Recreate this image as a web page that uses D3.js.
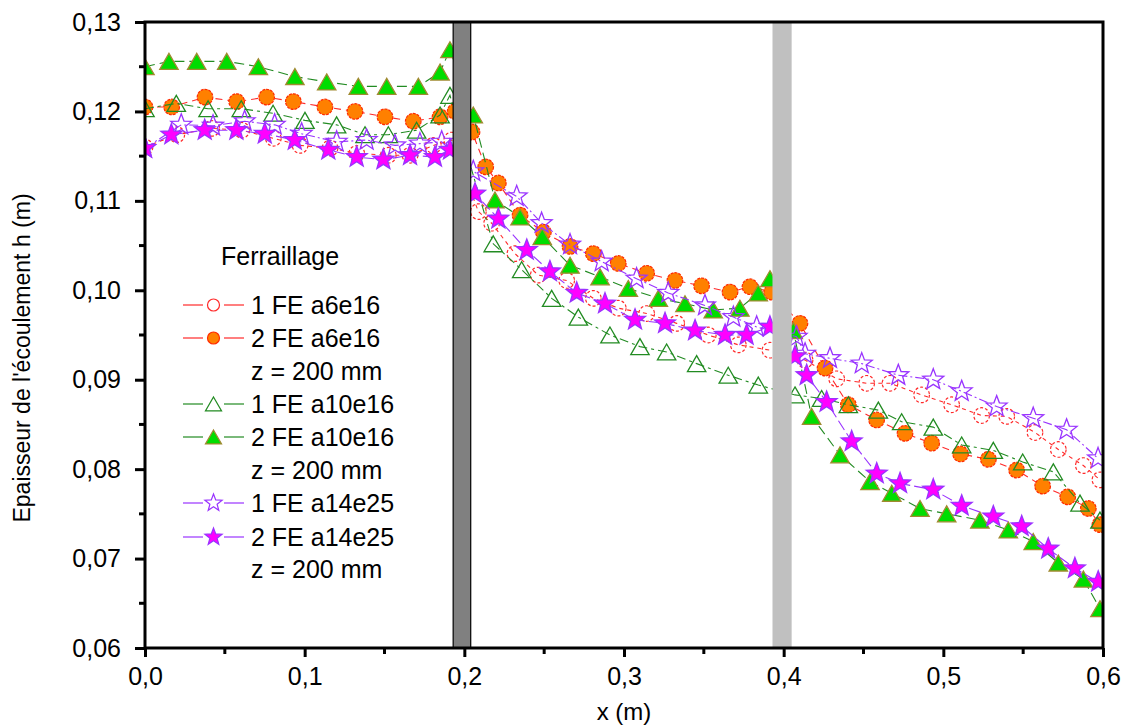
<!DOCTYPE html>
<html><head><meta charset="utf-8">
<script src="https://cdn.jsdelivr.net/npm/d3@7"></script>
<style>
html,body{margin:0;padding:0;background:#fff;}
svg{display:block;font-family:"Liberation Sans",Arial,sans-serif;}
</style></head>
<body><svg id="chart" width="1128" height="727"></svg>
<script>
// ---------- data ----------
const xTickValues = [0, 0.1, 0.2, 0.3, 0.4, 0.5, 0.6];
const xTickLabels = ["0,0","0,1","0,2","0,3","0,4","0,5","0,6"];
const yTickValues = [0.06,0.07,0.08,0.09,0.10,0.11,0.12,0.13];
const yTickLabels = ["0,06","0,07","0,08","0,09","0,10","0,11","0,12","0,13"];
const xTitle = "x (m)";
const yTitle = "Epaisseur de l'écoulement h (m)";
const legendTitle = "Ferraillage";
const zNote = "z = 200 mm";
const barDark = [0.193, 0.204];
const barLight = [0.393, 0.405];

// 1 FE a6e16
const s1x = [0,0.0199,0.0418,0.0606,0.0804,0.0971,0.1159,0.1326,0.1524,0.1660,0.1806,0.1921,
  0.2088,0.2171,0.2317,0.2463,0.2641,0.2808,0.2964,0.3142,0.3330,0.3528,0.3716,0.3914,
  0.4134,0.4332,0.4520,0.4666,0.4864,0.5052,0.5240,0.5397,0.5574,0.5720,0.5877,0.5981];
const s1y = [0.1160,0.1174,0.1181,0.1179,0.1170,0.1162,0.1159,0.1153,0.1151,0.1151,0.1162,0.1168,
  0.1088,0.1075,0.1041,0.1017,0.1011,0.0991,0.0980,0.0974,0.0963,0.0950,0.0939,0.0933,
  0.0922,0.0901,0.0896,0.0896,0.0883,0.0872,0.0860,0.0859,0.0841,0.0822,0.0804,0.0788];
// 2 FE a6e16
const s2x = [0,0.0167,0.0376,0.0574,0.0762,0.0929,0.1127,0.1315,0.1503,0.1680,0.1848,0.1942,
  0.2048,0.2134,0.2213,0.2349,0.2495,0.2662,0.2808,0.2964,0.3142,0.3319,0.3486,0.3664,0.3789,0.3925,
  0.4102,0.4259,0.4405,0.4582,0.4760,0.4927,0.5108,0.5282,0.5459,0.5622,0.5779,0.5908,0.5981];
const s2y = [0.1205,0.1205,0.1216,0.1211,0.1216,0.1211,0.1205,0.1200,0.1194,0.1189,0.1194,0.1200,
  0.1177,0.1138,0.1120,0.1084,0.1065,0.1049,0.1041,0.1030,0.1019,0.1011,0.1005,0.0998,0.1004,0.0998,
  0.0963,0.0913,0.0872,0.0855,0.0840,0.0829,0.0817,0.0811,0.0799,0.0781,0.0769,0.0756,0.0738];
// 1 FE a10e16
const s3x = [0,0.0196,0.0395,0.0603,0.0802,0.1002,0.1200,0.1378,0.1524,0.1701,0.1848,0.1910,
  0.2181,0.2359,0.2547,0.2714,0.2912,0.3100,0.3267,0.3455,0.3653,0.3841,
  0.4071,0.4238,0.4405,0.4593,0.4739,0.4937,0.5115,0.5313,0.5497,0.5689,0.5856,0.5981];
const s3y = [0.1203,0.1209,0.1203,0.1203,0.1198,0.1190,0.1185,0.1174,0.1174,0.1179,0.1196,0.1218,
  0.1052,0.1023,0.0991,0.0970,0.0950,0.0937,0.0931,0.0918,0.0905,0.0894,
  0.0883,0.0879,0.0872,0.0866,0.0853,0.0847,0.0827,0.0821,0.0808,0.0797,0.0762,0.0743];
// 2 FE a10e16
const s4x = [0,0.0150,0.0324,0.0512,0.0710,0.0939,0.1138,0.1336,0.1514,0.1712,0.1848,0.1910,
  0.2056,0.2192,0.2349,0.2488,0.2662,0.2850,0.3027,0.3215,0.3382,0.3559,0.3726,0.3841,0.3914,
  0.4060,0.4175,0.4353,0.4541,0.4677,0.4854,0.5021,0.5229,0.5407,0.5563,0.5720,0.5877,0.5981];
const s4y = [0.1250,0.1256,0.1256,0.1256,0.1250,0.1239,0.1233,0.1228,0.1228,0.1228,0.1244,0.1269,
  0.1196,0.1101,0.1082,0.1060,0.1028,0.1015,0.1002,0.0991,0.0985,0.0978,0.0980,0.0997,0.1013,
  0.0955,0.0859,0.0816,0.0786,0.0773,0.0756,0.0750,0.0743,0.0732,0.0719,0.0695,0.0677,0.0644];
// 1 FE a14e25
const s5x = [0,0.0227,0.0426,0.0624,0.0812,0.0981,0.1200,0.1388,0.1566,0.1722,0.1858,
  0.2056,0.2328,0.2484,0.2662,0.2860,0.3079,0.3277,0.3507,0.3685,0.3831,
  0.4081,0.4134,0.4290,0.4489,0.4718,0.4937,0.5115,0.5334,0.5563,0.5772,0.5969];
const s5y = [0.1159,0.1185,0.1184,0.1189,0.1185,0.1175,0.1166,0.1168,0.1162,0.1164,0.1166,
  0.1133,0.1105,0.1075,0.1051,0.1032,0.1013,0.0997,0.0983,0.0970,0.0959,
  0.0948,0.0929,0.0924,0.0918,0.0905,0.0900,0.0887,0.0870,0.0857,0.0844,0.0812];
// 2 FE a14e25
const s6x = [0,0.0165,0.0374,0.0572,0.0750,0.0938,0.1148,0.1326,0.1493,0.1660,0.1816,0.1910,
  0.2067,0.2213,0.2391,0.2536,0.2704,0.2881,0.3069,0.3257,0.3445,0.3633,0.3768,0.3914,
  0.4071,0.4144,0.4269,0.4426,0.4583,0.4729,0.4937,0.5115,0.5313,0.5491,0.5657,0.5824,0.5970];
const s6y = [0.1159,0.1174,0.1179,0.1179,0.1175,0.1168,0.1157,0.1149,0.1146,0.1151,0.1149,0.1157,
  0.1108,0.1080,0.1045,0.1021,0.0997,0.0985,0.0967,0.0963,0.0955,0.0950,0.0950,0.0959,
  0.0926,0.0905,0.0875,0.0831,0.0795,0.0784,0.0777,0.0759,0.0747,0.0736,0.0711,0.0689,0.0674];

const seriesNames = ["1 FE a6e16","2 FE a6e16","1 FE a10e16","2 FE a10e16","1 FE a14e25","2 FE a14e25"];

// ---------- styles (not data) ----------
const styles = [
  {shape:"circle",  fill:"none",    stroke:"#ff2a2a", line:"#ff2a2a", dash:"4,4"},
  {shape:"circle",  fill:"#ff8000", stroke:"#ff2a00", line:"#ff2a2a", dash:"7,5", markDash:"3,1"},
  {shape:"triangle",fill:"none",    stroke:"#228b22", line:"#228b22", dash:"9,4,3,4"},
  {shape:"triangle",fill:"#00dd00", stroke:"#a08a30", line:"#228b22", dash:"10,5"},
  {shape:"star",    fill:"none",    stroke:"#9933ff", line:"#9933ff", dash:"9,3,2,3"},
  {shape:"star",    fill:"#ff00ff", stroke:"#9933ff", line:"#9933ff", dash:"11,4"}
];
const seriesX = [s1x,s2x,s3x,s4x,s5x,s6x];
const seriesY = [s1y,s2y,s3y,s4y,s5y,s6y];

// ---------- layout ----------
const L = 145, R = 1103, T = 22, B = 648;
const svg = d3.select("#chart");
const x = d3.scaleLinear().domain([0, 0.6]).range([L, R]);
const y = d3.scaleLinear().domain([0.06, 0.13]).range([B, T]);

function shapePath(shape, r) {
  if (shape === "circle") {
    return `M${r},0A${r},${r} 0 1,1 ${-r},0A${r},${r} 0 1,1 ${r},0Z`;
  }
  if (shape === "triangle") {
    const s = r * 2.3, h = s * Math.sqrt(3) / 2;
    return `M0,${-h/2}L${s/2},${h/2}L${-s/2},${h/2}Z`;
  }
  const pts = [];
  const ri = r * 0.42;
  for (let i = 0; i < 10; i++) {
    const a = -Math.PI / 2 + i * Math.PI / 5;
    const rr = i % 2 === 0 ? r : ri;
    pts.push([rr * Math.cos(a), rr * Math.sin(a)]);
  }
  return "M" + pts.map(p => p[0].toFixed(2) + "," + p[1].toFixed(2)).join("L") + "Z";
}
const markR = {circle: 7.8, triangle: 8, star: 11};

svg.append("defs").append("clipPath").attr("id", "clip")
  .append("rect").attr("x", L).attr("y", T).attr("width", R - L).attr("height", B - T);

const plot = svg.append("g").attr("clip-path", "url(#clip)");

seriesX.forEach((xs, i) => {
  const st = styles[i];
  const pts = xs.map((v, j) => [v, seriesY[i][j]]);
  const g = plot.append("g");
  g.append("path")
    .attr("d", d3.line().x(d => x(d[0])).y(d => y(d[1]))(pts))
    .attr("fill", "none").attr("stroke", st.line).attr("stroke-width", 1.1)
    .attr("stroke-dasharray", st.dash);
  g.selectAll("path.m").data(pts).enter().append("path").attr("class", "m")
    .attr("d", shapePath(st.shape, markR[st.shape]))
    .attr("transform", d => `translate(${x(d[0])},${y(d[1])})`)
    .attr("fill", st.fill === "none" ? "none" : st.fill)
    .attr("stroke", st.stroke).attr("stroke-width", st.shape === "circle" ? 1.2 : 1.3)
    .attr("stroke-dasharray", st.shape === "circle" && st.fill === "none" ? "3,2" : (st.markDash || null));
});

// bars (drawn above data)
svg.append("rect").attr("x", x(barDark[0])).attr("y", T)
  .attr("width", x(barDark[1]) - x(barDark[0])).attr("height", B - T)
  .attr("fill", "#808080").attr("stroke", "#000").attr("stroke-width", 1.2);
svg.append("rect").attr("x", x(barLight[0])).attr("y", T)
  .attr("width", x(barLight[1]) - x(barLight[0])).attr("height", B - T)
  .attr("fill", "#c0c0c0");

// frame
svg.append("rect").attr("x", L).attr("y", T).attr("width", R - L).attr("height", B - T)
  .attr("fill", "none").attr("stroke", "#000").attr("stroke-width", 3);

// axes
const xAxis = d3.axisBottom(x).tickValues(xTickValues)
  .tickFormat((d, i) => xTickLabels[i]).tickSize(9).tickPadding(10);
const gx = svg.append("g").attr("transform", `translate(0,${B})`).call(xAxis);
const yAxis = d3.axisLeft(y).tickValues(yTickValues)
  .tickFormat((d, i) => yTickLabels[i]).tickSize(10).tickPadding(14);
const gy = svg.append("g").attr("transform", `translate(${L},0)`).call(yAxis);
[gx, gy].forEach(g => {
  g.select(".domain").remove();
  g.selectAll(".tick line").attr("stroke", "#000").attr("stroke-width", 3);
  g.selectAll(".tick text").attr("fill", "#000").attr("font-size", 25)
    .attr("font-family", "'Liberation Sans', Arial, sans-serif");
});
// minor ticks
const xMinor = d3.range(0.05, 0.6, 0.1);
svg.append("g").selectAll("line").data(xMinor).enter().append("line")
  .attr("x1", d => x(d)).attr("x2", d => x(d)).attr("y1", B).attr("y2", B + 6)
  .attr("stroke", "#000").attr("stroke-width", 3);
const yMinor = d3.range(0.065, 0.13, 0.01);
svg.append("g").selectAll("line").data(yMinor).enter().append("line")
  .attr("x1", L - 6).attr("x2", L).attr("y1", d => y(d)).attr("y2", d => y(d))
  .attr("stroke", "#000").attr("stroke-width", 3);

// titles
svg.append("text").attr("x", (L + R) / 2).attr("y", 720).attr("text-anchor", "middle")
  .attr("font-size", 24).text(xTitle);
svg.append("text").attr("transform", `translate(30,358) rotate(-90)`)
  .attr("text-anchor", "middle").attr("font-size", 23).text(yTitle);

// legend
const leg = svg.append("g");
leg.append("text").attr("x", 221).attr("y", 265).attr("font-size", 25).text(legendTitle);
const rows = [305, 338, 404, 437, 503, 537];
const noteRows = [371, 470, 569];
seriesNames.forEach((name, i) => {
  const st = styles[i];
  const cy = rows[i];
  leg.append("line").attr("x1", 183).attr("x2", 203).attr("y1", cy).attr("y2", cy)
    .attr("stroke", st.line).attr("stroke-width", 1.2);
  leg.append("line").attr("x1", 224).attr("x2", 244).attr("y1", cy).attr("y2", cy)
    .attr("stroke", st.line).attr("stroke-width", 1.2);
  const rr = st.shape === "star" ? 9 : (st.shape === "triangle" ? 7 : 6);
  leg.append("path").attr("d", shapePath(st.shape, rr))
    .attr("transform", `translate(213.5,${cy})`)
    .attr("fill", st.fill).attr("stroke", st.stroke).attr("stroke-width", 1.2);
  leg.append("text").attr("x", 251).attr("y", cy + 9).attr("font-size", 25).text(name);
});
noteRows.forEach(cy => {
  leg.append("text").attr("x", 251).attr("y", cy + 9).attr("font-size", 25).text(zNote);
});
</script>
</body></html>
